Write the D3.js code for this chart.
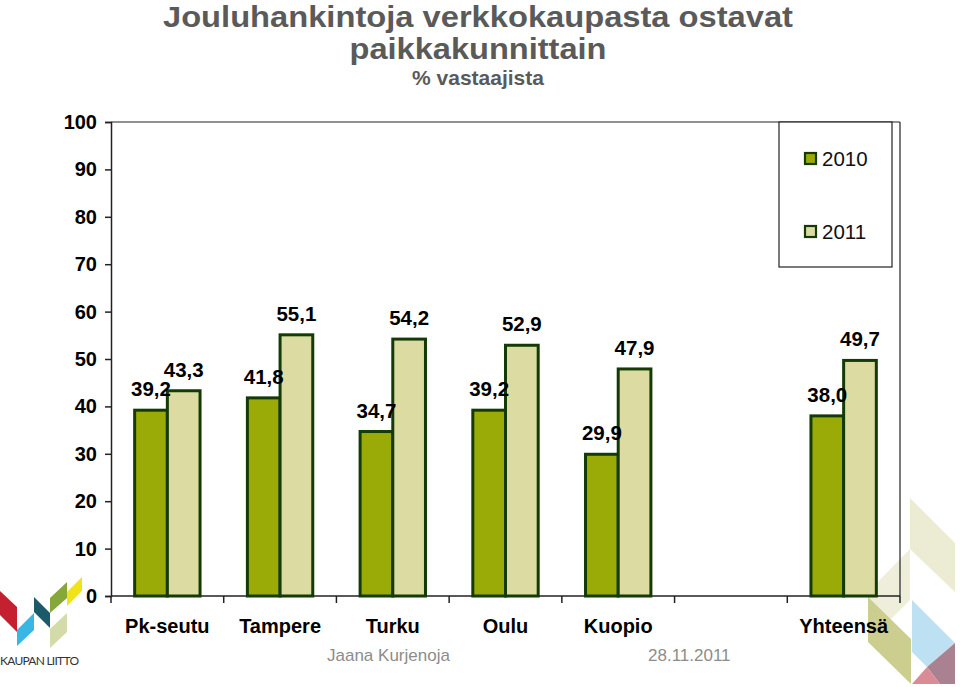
<!DOCTYPE html>
<html>
<head>
<meta charset="utf-8">
<script src="https://cdn.jsdelivr.net/npm/d3@7"></script>
<style>
html,body{margin:0;padding:0;background:#fff;}
svg{display:block;font-family:"Liberation Sans",Arial,Helvetica,sans-serif;}
</style>
</head>
<body>
<svg id="chart" width="960" height="687"></svg>
<script>
const categories = ["Pk-seutu", "Tampere", "Turku", "Oulu", "Kuopio", "", "Yhteensä"];
const series = ["2010", "2011"];
const values2010 = [39.2, 41.8, 34.7, 39.2, 29.9, null, 38.0];
const values2011 = [43.3, 55.1, 54.2, 52.9, 47.9, null, 49.7];
const yTicks = [0, 10, 20, 30, 40, 50, 60, 70, 80, 90, 100];
const colors = {"2010": "#9aab08", "2011": "#dcdca2"};
const strokeColor = "#143a06";

(function () {
const svg = d3.select("#chart");
const pL = 111, pR = 900, pT = 122, pB = 596;

const x0 = d3.scaleBand().domain(categories.map((c, i) => i)).range([pL, pR])
  .paddingInner(0.42).paddingOuter(0.21);
const x1 = d3.scaleBand().domain(series).range([0, x0.bandwidth()]);
const y = d3.scaleLinear().domain([0, 100]).range([pB, pT]);

const poly = (pts, fill, g) => g.append("polygon").attr("points", pts.map(p => p.join(",")).join(" ")).attr("fill", fill);

// right decoration (behind)
const deco = svg.append("g");
poly([[910,498],[955,543],[955,592],[910,549]], "#ecebd4", deco);
poly([[910,549],[910,600],[882,628],[868,614],[868,592]], "#eeeedb", deco);
poly([[868,597],[911,639],[911,684],[868,642]], "#cbce8e", deco);
poly([[912,600],[955,643],[927,667],[912,652]], "#bde1f2", deco);
poly([[955,643],[955,684],[940,684],[927,667]], "#a98190", deco);
poly([[912,684],[927,667],[940,684]], "#d98b96", deco);

// title
svg.append("text").attr("x", 478).attr("y", 27).attr("text-anchor", "middle")
  .attr("font-size", 30).attr("font-weight", "bold").attr("fill", "#5a5a5a")
  .attr("textLength", 630).attr("lengthAdjust", "spacingAndGlyphs")
  .text("Jouluhankintoja verkkokaupasta ostavat");
svg.append("text").attr("x", 478).attr("y", 59).attr("text-anchor", "middle")
  .attr("font-size", 30).attr("font-weight", "bold").attr("fill", "#5a5a5a")
  .attr("textLength", 257).attr("lengthAdjust", "spacingAndGlyphs")
  .text("paikkakunnittain");
svg.append("text").attr("x", 478).attr("y", 85).attr("text-anchor", "middle")
  .attr("font-size", 21).attr("font-weight", "bold").attr("fill", "#5a5a5a")
  .text("% vastaajista");

// plot border (top and right)
svg.append("line").attr("x1", pL).attr("x2", pR).attr("y1", pT).attr("y2", pT)
  .attr("stroke", "#222").attr("stroke-width", 1.2);
svg.append("line").attr("x1", pR).attr("x2", pR).attr("y1", pT).attr("y2", pB)
  .attr("stroke", "#222").attr("stroke-width", 1.2);

// y axis
const yAxis = d3.axisLeft(y).tickValues(yTicks).tickSize(6).tickPadding(8).tickFormat(d3.format("d"));
const gy = svg.append("g").attr("transform", `translate(${pL},0)`).call(yAxis);
gy.select(".domain").attr("stroke", "#222").attr("stroke-width", 1.5);
gy.selectAll(".tick line").attr("stroke", "#222").attr("stroke-width", 1.5);
gy.selectAll(".tick text").attr("font-size", 20).attr("font-weight", "bold").attr("fill", "#000")
  .attr("font-family", "Liberation Sans, Arial, sans-serif");

// x axis
const boundaries = d3.range(categories.length + 1).map(i => pL + i * x0.step());
const gx = svg.append("g");
gx.append("line").attr("x1", pL).attr("x2", pR).attr("y1", pB).attr("y2", pB)
  .attr("stroke", "#222").attr("stroke-width", 1.5);
gx.selectAll("line.tk").data(boundaries).join("line").attr("class", "tk")
  .attr("x1", d => d).attr("x2", d => d).attr("y1", pB).attr("y2", pB + 7)
  .attr("stroke", "#222").attr("stroke-width", 1.5);
gx.selectAll("text").data(categories).join("text")
  .attr("x", (d, i) => x0(i) + x0.bandwidth() / 2).attr("y", 633)
  .attr("text-anchor", "middle").attr("font-size", 20).attr("font-weight", "bold").attr("fill", "#000")
  .text(d => d);

// bars
const rows = categories.map((c, i) => ({i, c, v: {"2010": values2010[i], "2011": values2011[i]}}));
const groups = svg.append("g").selectAll("g").data(rows).join("g")
  .attr("transform", d => `translate(${x0(d.i)},0)`);
groups.selectAll("rect").data(d => series.filter(s => d.v[s] != null).map(s => ({s, v: d.v[s]})))
  .join("rect")
  .attr("x", d => x1(d.s)).attr("width", x1.bandwidth())
  .attr("y", d => y(d.v)).attr("height", d => y(0) - y(d.v))
  .attr("fill", d => colors[d.s]).attr("stroke", strokeColor).attr("stroke-width", 3);
groups.selectAll("text").data(d => series.filter(s => d.v[s] != null).map(s => ({s, v: d.v[s]})))
  .join("text")
  .attr("x", d => x1(d.s) + x1.bandwidth() / 2).attr("y", d => y(d.v) - 14)
  .attr("text-anchor", "middle").attr("font-size", 20.5).attr("font-weight", "bold").attr("fill", "#000")
  .text(d => d3.format(".1f")(d.v).replace(".", ","));

// legend
const lg = svg.append("g");
lg.append("rect").attr("x", 779).attr("y", 122).attr("width", 113).attr("height", 145)
  .attr("fill", "#fff").attr("stroke", "#222").attr("stroke-width", 1.2);
series.forEach((s, k) => {
  const yy = 159 + k * 73;
  lg.append("rect").attr("x", 805).attr("y", yy - 6).attr("width", 11).attr("height", 11)
    .attr("fill", colors[s]).attr("stroke", strokeColor).attr("stroke-width", 2.2);
  lg.append("text").attr("x", 822).attr("y", yy + 7).attr("font-size", 20.5).attr("fill", "#111")
    .text(s);
});

// footer
svg.append("text").attr("x", 327).attr("y", 661).attr("font-size", 17).attr("fill", "#8c8c8c").text("Jaana Kurjenoja");
svg.append("text").attr("x", 648).attr("y", 661).attr("font-size", 17).attr("fill", "#8c8c8c").text("28.11.2011");

// logo (decoration)
const logo = svg.append("g");
poly([[0,591],[17,607],[17,632],[0,615]], "#c42030", logo);
poly([[17,630],[34,613],[34,630],[17,646]], "#3ab6e4", logo);
poly([[34,597],[50,613],[50,628],[34,612]], "#1c5a6a", logo);
poly([[50,598],[67,582],[67,598],[50,613]], "#86a83a", logo);
poly([[67,592],[82,577],[82,591],[67,606]], "#f2e21a", logo);
poly([[50,629],[67,613],[67,632],[50,648]], "#d3dba8", logo);
logo.append("text").attr("x", 0).attr("y", 665).attr("font-size", 12).attr("fill", "#333")
  .attr("font-family", "Lato, Open Sans, sans-serif").attr("textLength", 79).text("KAUPAN LIITTO");
})();
</script>
</body>
</html>
